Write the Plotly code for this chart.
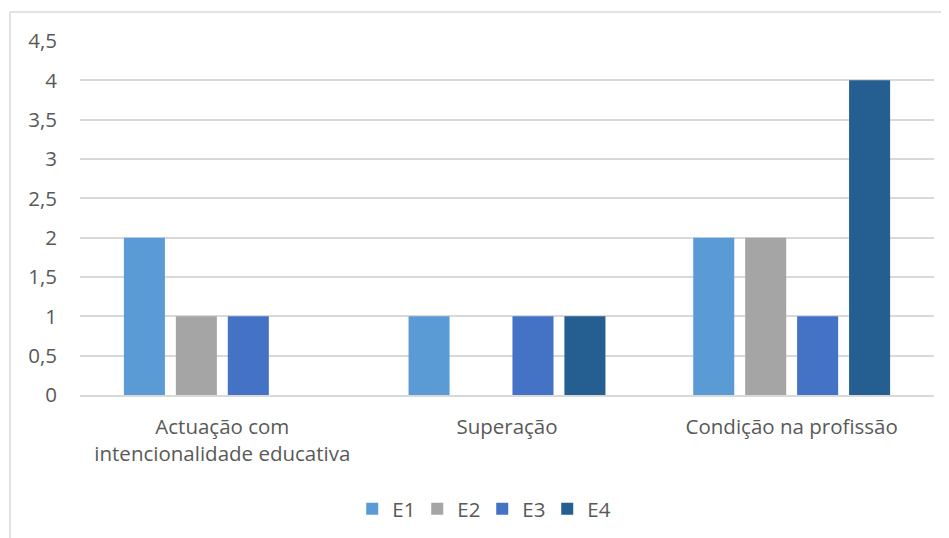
import plotly.graph_objects as go

categories = ["Actuação com<br>intencionalidade educativa", "Superação", "Condição na profissão"]
series_names = ["E1", "E2", "E3", "E4"]
e1 = [2, 1, 2]
e2 = [1, 0, 2]
e3 = [1, 1, 1]
e4 = [0, 1, 4]
colors = ["#5B9BD5", "#A5A5A5", "#4472C4", "#255E91"]
y_ticks = [0, 0.5, 1, 1.5, 2, 2.5, 3, 3.5, 4, 4.5]
y_tick_labels = ["0", "0,5", "1", "1,5", "2", "2,5", "3", "3,5", "4", "4,5"]

fig = go.Figure()
for name, vals, col in zip(series_names, [e1, e2, e3, e4], colors):
    fig.add_trace(go.Bar(name=name, x=categories, y=vals, marker=dict(color=col, line=dict(width=0))))

font_family = "'Open Sans', Lato, sans-serif"
text_color = "#595959"
fs = 20.5
fig.update_layout(
    width=949, height=538,
    barmode="group", bargap=0.27, bargroupgap=0.21,
    plot_bgcolor="white", paper_bgcolor="white",
    margin=dict(l=72, r=23, t=33, b=151),
    font=dict(family=font_family, size=fs, color=text_color),
    showlegend=True,
    legend=dict(orientation="h", x=0.471, xanchor="center", y=-0.322, yanchor="middle",
                font=dict(size=fs, color=text_color), entrywidth=20, entrywidthmode="pixels",
                itemwidth=30, traceorder="normal"),
    xaxis=dict(showgrid=False, showline=True, linecolor="#D9D9D9", linewidth=1.5,
               ticks="", ticklabelstandoff=13, tickfont=dict(size=fs, color=text_color)),
    yaxis=dict(range=[0, 4.5], tickvals=y_ticks, ticktext=y_tick_labels, showgrid=True,
               gridcolor="#D9D9D9", gridwidth=1.5, zeroline=False, showline=False,
               ticks="", ticklabelstandoff=22, tickfont=dict(size=fs, color=text_color)),
)

# chart border (left and top edges visible)
fig.add_shape(type="line", xref="paper", yref="paper", x0=-0.082, x1=-0.082, y0=1.082, y1=-0.5,
              line=dict(color="#D9D9D9", width=1.5))
fig.add_shape(type="line", xref="paper", yref="paper", x0=-0.082, x1=1.1, y0=1.082, y1=1.082,
              line=dict(color="#D9D9D9", width=1.5))

fig.write_html("out.html")
